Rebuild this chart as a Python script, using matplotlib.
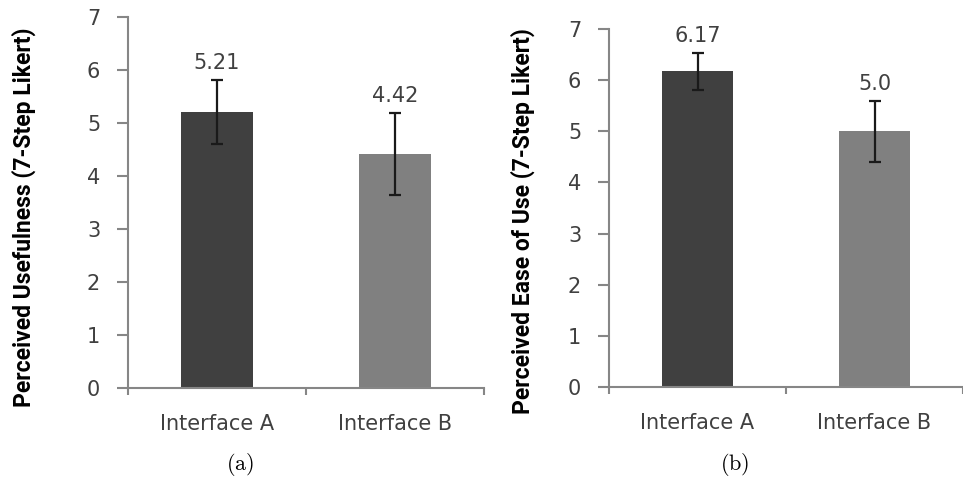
import matplotlib
matplotlib.use("Agg")
import matplotlib.pyplot as plt

categories = ["Interface A", "Interface B"]

usefulness_means = [5.21, 4.42]
usefulness_errs = [0.60, 0.77]
usefulness_labels = ["5.21", "4.42"]

ease_means = [6.17, 5.0]
ease_errs = [0.37, 0.60]
ease_labels = ["6.17", "5.0"]

BAR_COLORS = ["#404040", "#808080"]
AXIS_GRAY = "#868686"
TEXT_GRAY = "#404040"

plt.rcParams["mathtext.fontset"] = "cm"


def _draw_panel(ax, means, errs, labels, ylabel, xmax, label_xy):
    x = list(range(len(categories)))
    ax.bar(x, means, width=0.4, color=BAR_COLORS, zorder=2)
    ax.errorbar(x, means, yerr=errs, fmt="none", ecolor="#1a1a1a",
                elinewidth=1.6, capsize=4.5, capthick=1.6, zorder=3)

    for xi, m, e, lab in zip(x, means, errs, labels):
        ax.annotate(lab, (xi, m + e), xytext=(0, 5), textcoords="offset points",
                    ha="center", va="bottom", fontsize=15, color=TEXT_GRAY)

    ax.set_xlim(-0.5, xmax)
    ax.set_ylim(0, 7)
    ax.set_yticks(range(0, 8))

    # category boundaries carry the x ticks, names sit in between
    ax.set_xticks([-0.5, 0.5, 1.5])
    ax.set_xticklabels([])
    ax.set_xticks(x, minor=True)
    ax.set_xticklabels(categories, minor=True, fontsize=15, color=TEXT_GRAY)
    ax.tick_params(axis="x", which="minor", length=0, pad=19)
    ax.tick_params(axis="x", which="major", length=5, width=1.5,
                   color=AXIS_GRAY, direction="out")
    ax.tick_params(axis="y", length=8, width=1.5, color=AXIS_GRAY,
                   labelsize=15, labelcolor=TEXT_GRAY, pad=12)

    for side in ["top", "right"]:
        ax.spines[side].set_visible(False)
    for side in ["left", "bottom"]:
        ax.spines[side].set_color(AXIS_GRAY)
        ax.spines[side].set_linewidth(1.5)

    ax.set_ylabel(ylabel, fontsize=16.5, fontweight="bold",
                  family="Roboto", color="black")
    ax.yaxis.set_label_coords(*label_xy)


fig = plt.figure(figsize=(9.63, 4.79), dpi=100)

ax1 = fig.add_axes([128 / 963, 1 - 388 / 479, 356 / 963, 371 / 479])
_draw_panel(ax1, usefulness_means, usefulness_errs, usefulness_labels,
            "Perceived Usefulness (7-Step Likert)", 1.5, (-0.258, 0.461))

ax2 = fig.add_axes([609 / 963, 1 - 387 / 479, 354 / 963, 358 / 479])
_draw_panel(ax2, ease_means, ease_errs, ease_labels,
            "Perceived Ease of Use (7-Step Likert)", 1.45, (-0.208, 0.464))

fig.text(240 / 963, 1 - 465 / 479, r"$(\mathrm{a})$", fontsize=16,
         ha="center", va="center")
fig.text(735 / 963, 1 - 465 / 479, r"$(\mathrm{b})$", fontsize=16,
         ha="center", va="center")

fig.savefig("out.png", dpi=100)
